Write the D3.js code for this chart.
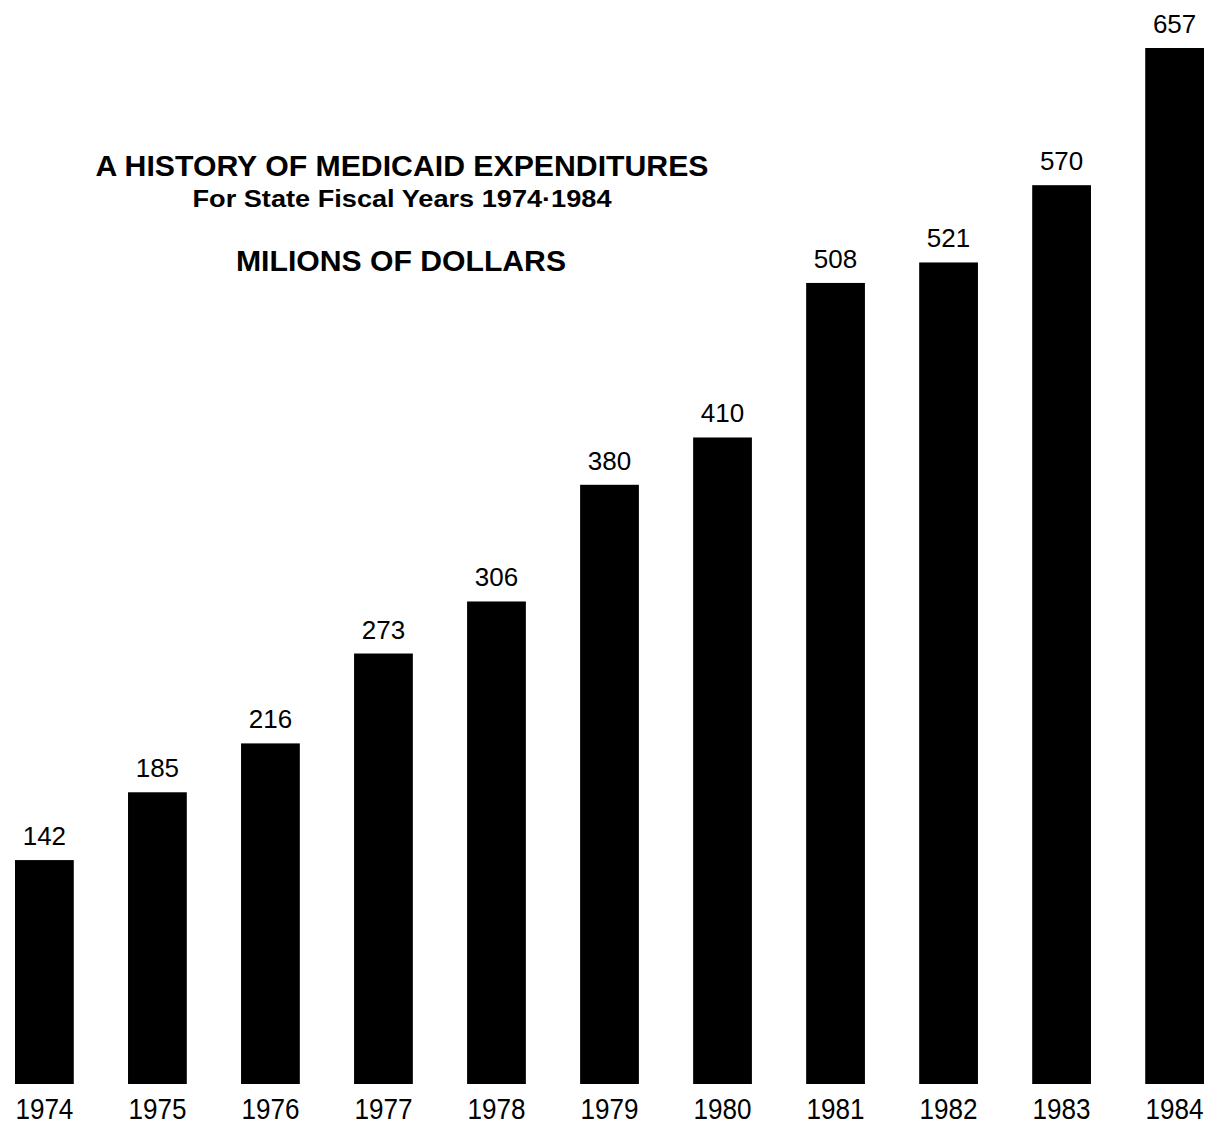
<!DOCTYPE html>
<html>
<head>
<meta charset="utf-8">
<script src="https://cdn.jsdelivr.net/npm/d3@7"></script>
<style>
  body { margin: 0; background: #fff; }
  text { font-family: "Liberation Sans", Arial, Helvetica, sans-serif; fill: #000; }
</style>
</head>
<body>
<div id="app"></div>
<script>
const years = ["1974", "1975", "1976", "1977", "1978", "1979", "1980", "1981", "1982", "1983", "1984"];
const spending = [142, 185, 216, 273, 306, 380, 410, 508, 521, 570, 657];
const titleLines = [
  "A HISTORY OF MEDICAID EXPENDITURES",
  "For State Fiscal Years 1974·1984",
  "MILIONS OF DOLLARS"
];

const w = 1218;
const h = 1127;

const svg = d3.select("#app")
  .append("svg")
  .attr("width", w)
  .attr("height", h);

const x = d3.scaleBand()
  .domain(years)
  .range([15, 1204])
  .paddingInner(0.48)
  .paddingOuter(0);

const y = d3.scaleLinear()
  .domain([0, 657])
  .range([1084, 48]);

// bars
svg.selectAll("rect.bar")
  .data(years)
  .enter()
  .append("rect")
  .attr("class", "bar")
  .attr("x", d => x(d))
  .attr("y", (d, i) => y(spending[i]))
  .attr("width", x.bandwidth())
  .attr("height", (d, i) => y(0) - y(spending[i]))
  .attr("fill", "#000");

// value labels
svg.selectAll("text.value")
  .data(years)
  .enter()
  .append("text")
  .attr("class", "value")
  .attr("x", d => x(d) + x.bandwidth() / 2)
  .attr("y", (d, i) => y(spending[i]) - 15)
  .attr("text-anchor", "middle")
  .attr("font-size", 26)
  .text((d, i) => spending[i]);

// year labels
svg.selectAll("text.year")
  .data(years)
  .enter()
  .append("text")
  .attr("class", "year")
  .attr("x", d => x(d) + x.bandwidth() / 2)
  .attr("y", 1119)
  .attr("text-anchor", "middle")
  .attr("font-size", 29)
  .attr("textLength", 58)
  .attr("lengthAdjust", "spacingAndGlyphs")
  .text(d => d);

// title block
svg.append("text")
  .attr("x", 402)
  .attr("y", 176)
  .attr("text-anchor", "middle")
  .attr("font-size", 29)
  .attr("font-weight", "bold")
  .attr("textLength", 613)
  .attr("lengthAdjust", "spacingAndGlyphs")
  .text(titleLines[0]);

svg.append("text")
  .attr("x", 402)
  .attr("y", 207)
  .attr("text-anchor", "middle")
  .attr("font-size", 23)
  .attr("font-weight", "bold")
  .attr("textLength", 419)
  .attr("lengthAdjust", "spacingAndGlyphs")
  .text(titleLines[1]);

svg.append("text")
  .attr("x", 401)
  .attr("y", 271)
  .attr("text-anchor", "middle")
  .attr("font-size", 29)
  .attr("font-weight", "bold")
  .attr("textLength", 330)
  .attr("lengthAdjust", "spacingAndGlyphs")
  .text(titleLines[2]);
</script>
</body>
</html>
